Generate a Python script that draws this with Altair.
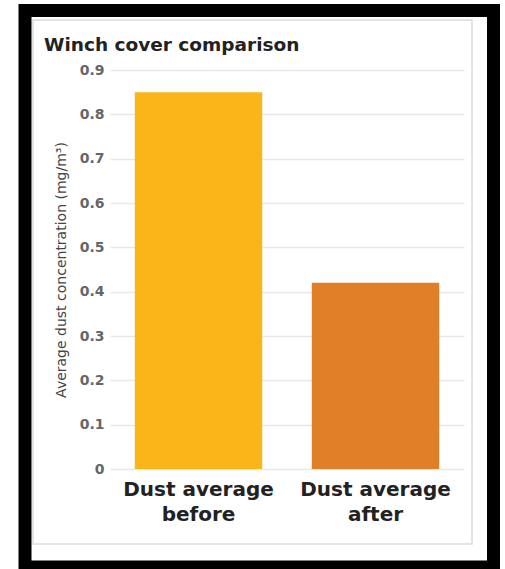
import altair as alt
import pandas as pd

categories = ["Dust average before", "Dust average after"]
values = [0.85, 0.42]
colors = ["#FBB519", "#E07F27"]
y_ticks = [0, 0.1, 0.2, 0.3, 0.4, 0.5, 0.6, 0.7, 0.8, 0.9]

df = pd.DataFrame({"cat": categories, "val": values, "color": colors})
one = pd.DataFrame({"k": [0]})

W, H = 354, 399
FONT = "DejaVu Sans"

bars = alt.Chart(df).mark_bar().encode(
    x=alt.X("cat:N", sort=categories, title=None,
            scale=alt.Scale(paddingInner=0.28, paddingOuter=0.14),
            axis=alt.Axis(labelAngle=0, labelFontSize=20, labelFont=FONT,
                          labelFontWeight="bold", labelColor="#222222",
                          labelExpr="[substring(datum.label,0,12), substring(datum.label,13)]",
                          labelLineHeight=25, labelPadding=10, ticks=False,
                          domain=False, grid=False, labelBaseline="top")),
    y=alt.Y("val:Q", title="Average dust concentration (mg/m³)",
            scale=alt.Scale(domain=[0, 0.9], nice=False),
            axis=alt.Axis(values=y_ticks, format="~g", ticks=False, domain=False,
                          labelFontSize=14, labelFont=FONT, labelFontWeight="bold",
                          labelColor="#666666", labelPadding=6,
                          gridColor="#e4e8ea", gridWidth=1.5,
                          titleFontSize=14, titleFont=FONT, titleFontWeight="normal",
                          titleColor="#444444", titlePadding=11)),
    color=alt.Color("color:N", scale=None),
)

frame = alt.Chart(one).mark_rect(fill=None, stroke="black", strokeWidth=13).encode(
    x=alt.value(-85), x2=alt.value(383.5), y=alt.value(-59.5), y2=alt.value(497)
)
panel = alt.Chart(one).mark_rect(fill=None, stroke="#dcdcdc", strokeWidth=1.5).encode(
    x=alt.value(-77), x2=alt.value(362), y=alt.value(-50), y2=alt.value(474)
)

chart = alt.layer(panel, frame, bars).properties(
    width=W, height=H,
    title=alt.Title("Winch cover comparison", anchor="start", frame="group",
                    fontSize=18.5, font=FONT, fontWeight="bold", color="#222222",
                    baseline="alphabetic", dx=-66, dy=65, offset=0),
    padding={"left": 110, "top": 70, "right": 41, "bottom": 100},
    autosize=alt.AutoSizeParams(type="none"),
    background="white",
).configure_view(stroke=None)

chart.save("out.html", embed_options={"renderer": "svg", "actions": False})
